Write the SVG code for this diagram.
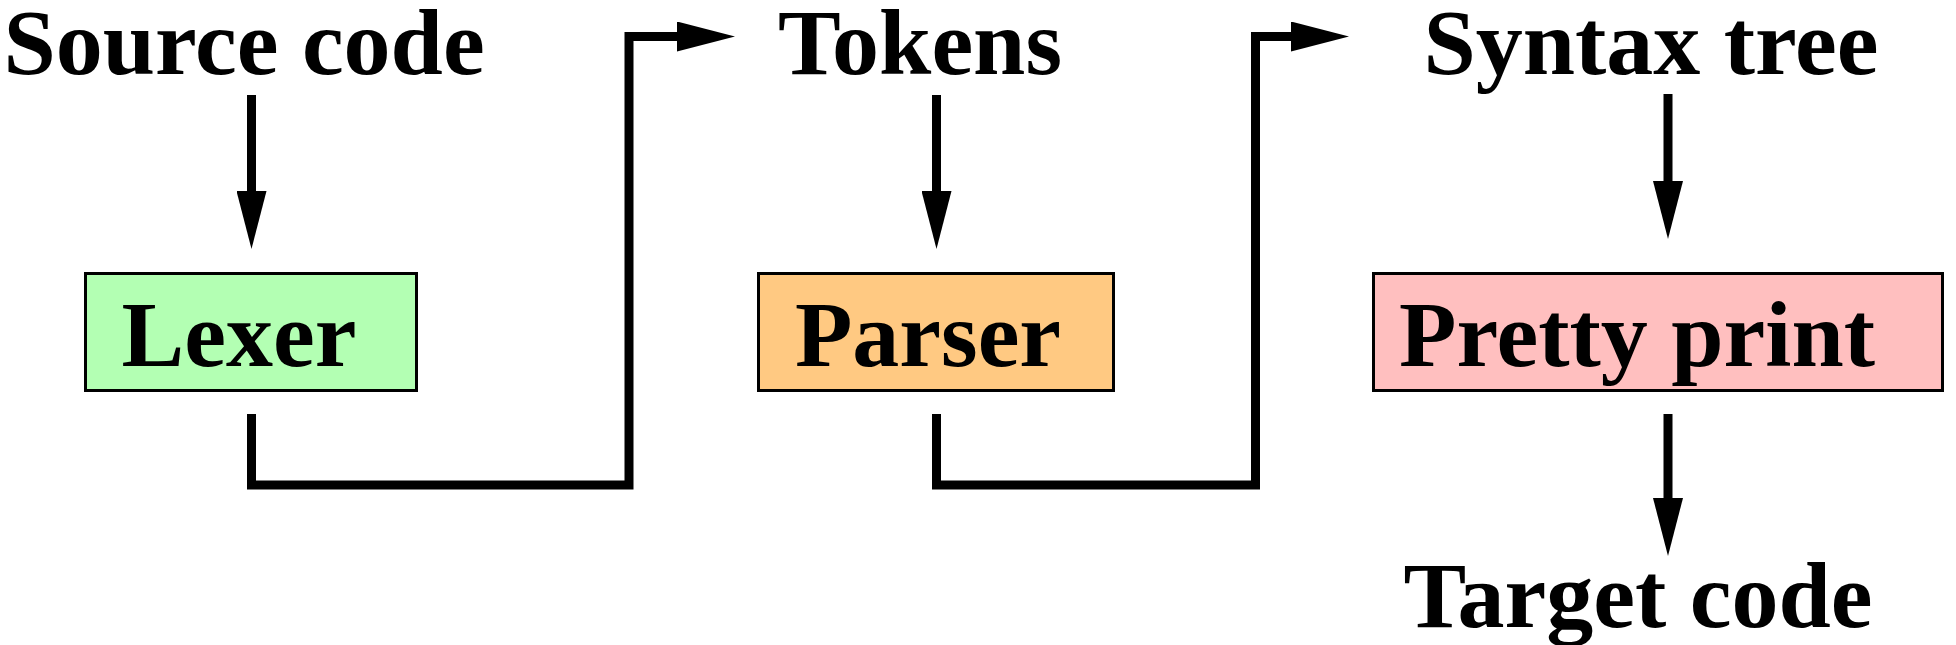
<svg xmlns="http://www.w3.org/2000/svg" width="1956" height="645" viewBox="0 0 1956 645">
<style>
  .lbl { font-family: "Liberation Serif", "Times New Roman", serif; font-weight: bold; font-size: 94px; fill: #000; text-anchor: middle; }
  .box { stroke: #000; stroke-width: 3; }
  .conn { fill: none; stroke: #000; stroke-width: 9; stroke-linejoin: miter; stroke-linecap: butt; }
</style>
<defs>
  <marker id="ah" viewBox="0 0 58 30" markerWidth="58" markerHeight="30" refX="2" refY="15" orient="auto" markerUnits="userSpaceOnUse">
    <polygon points="0,0 58,15 0,30" fill="#000"/>
  </marker>
</defs>
<rect width="1956" height="645" fill="#fff"/>
<g id="source-code"><text class="lbl" x="244" y="74">Source code</text></g>
<g id="tokens"><text class="lbl" x="920" y="74">Tokens</text></g>
<g id="syntax-tree"><text class="lbl" x="1651" y="74">Syntax tree</text></g>
<g id="lexer">
  <rect class="box" x="85.5" y="273.5" width="331" height="117" fill="#b3ffb3"/>
  <text class="lbl" x="239" y="366">Lexer</text>
</g>
<g id="parser">
  <rect class="box" x="758.5" y="273.5" width="355" height="117" fill="#ffc982"/>
  <text class="lbl" x="928" y="366">Parser</text>
</g>
<g id="pretty-print">
  <rect class="box" x="1373.5" y="273.5" width="569" height="117" fill="#ffbfbf"/>
  <text class="lbl" x="1637" y="366">Pretty print</text>
</g>
<g id="target-code"><text class="lbl" x="1638" y="627">Target code</text></g>
<g id="connectors">
  <path class="conn" d="M251.5,95 V193" marker-end="url(#ah)"/>
  <path class="conn" d="M936.5,95 V193" marker-end="url(#ah)"/>
  <path class="conn" d="M1668,94 V183" marker-end="url(#ah)"/>
  <path class="conn" d="M1668,414 V500" marker-end="url(#ah)"/>
  <path class="conn" d="M251.5,414 V485 H629 V36.5 H679" marker-end="url(#ah)"/>
  <path class="conn" d="M936.5,414 V485 H1255.5 V36.5 H1293" marker-end="url(#ah)"/>
</g>
</svg>
